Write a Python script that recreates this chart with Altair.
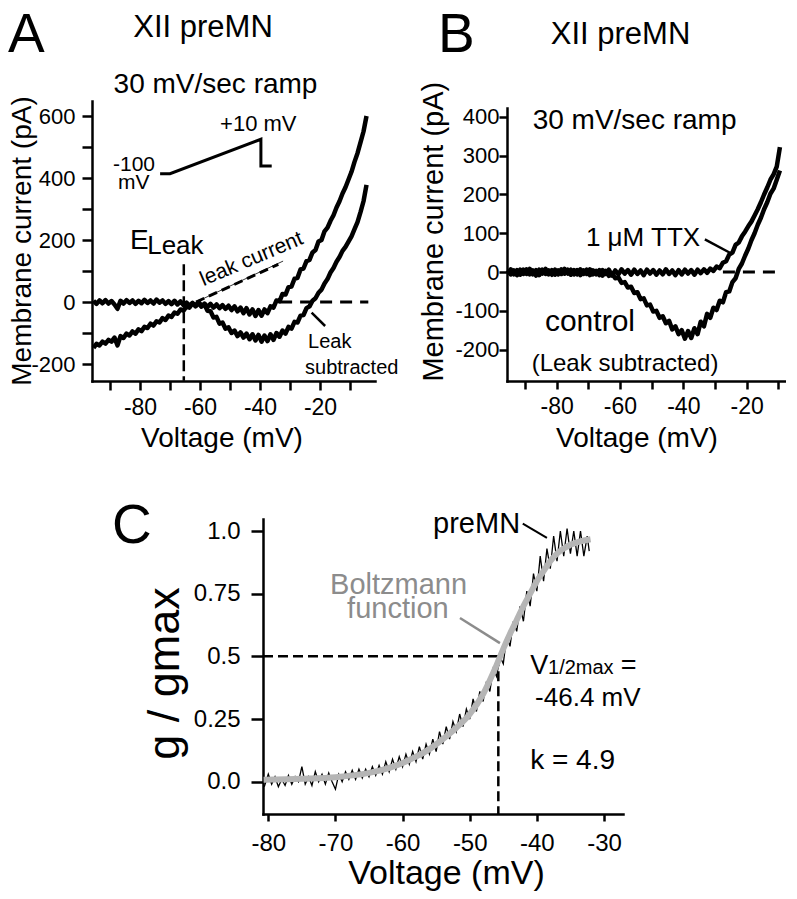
import altair as alt
import pandas as pd

FONT = "Liberation Sans"

# ---------------- Panel A data (voltage in mV, current in pA) ----------------
A_voltage = [-95.5, -94.5, -93.5, -92.5, -91.5, -90.5, -89.5, -88.5, -87.5, -86.5,
             -85.5, -84.5, -83.5, -82.5, -81.5, -80.5, -79.5, -78.5, -77.5, -76.5,
             -75.5, -74.5, -73.5, -72.5, -71.5, -70.5, -69.5, -68.5, -67.5, -66.5,
             -65.5, -64.5, -63.5, -62.5, -61.5, -60.5, -59.5, -58.5, -57.5, -56.5,
             -55.5, -54.5, -53.5, -52.5, -51.5, -50.5, -49.5, -48.5, -47.5, -46.5,
             -45.5, -44.5, -43.5, -42.5, -41.5, -40.5, -39.5, -38.5, -37.5, -36.5,
             -35.5, -34.5, -33.5, -32.5, -31.5, -30.5, -29.5, -28.5, -27.5, -26.5,
             -25.5, -24.5, -23.5, -22.5, -21.5, -20.5, -19.5, -18.5, -17.5, -16.5,
             -15.5, -14.5, -13.5, -12.5, -11.5, -10.5, -9.5, -8.5, -7.5, -6.5,
             -5.5, -4.5]
A_trace_flat = [4, -6, 5, -4, 6, -5, 3, -8, -22, 4,
                -5, 6, -3, 5, -6, 4, -4, 7, -3, 5,
                -5, 8, -2, 5, -6, 3, -7, 4, -8, 2,
                -10, -2, -12, -3, -14, -4, -15, -5, -16, -6,
                -18, -8, -20, -10, -22, -12, -26, -14, -30, -18,
                -36, -20, -40, -24, -45, -26, -44, -24, -36, -14,
                -18, 5, 2, 26, 24, 48, 50, 75, 78, 105,
                108, 132, 136, 160, 168, 195, 200, 228, 240, 262,
                280, 305, 325, 350, 370, 395, 420, 452, 480, 515,
                550, 600]
A_trace_leak = [-148, -135, -140, -128, -134, -122, -128, -115, -140, -110,
                -116, -102, -108, -95, -102, -88, -94, -80, -84, -70,
                -76, -62, -66, -52, -58, -44, -48, -34, -38, -24,
                -28, -14, -18, -4, -12, 0, -12, -8, -28, -30,
                -50, -48, -70, -66, -86, -82, -100, -92, -110, -98,
                -115, -102, -120, -104, -124, -106, -128, -108, -126, -104,
                -122, -100, -112, -92, -102, -80, -86, -64, -66, -44,
                -42, -20, -14, 4, 12, 30, 40, 60, 74, 95,
                110, 130, 145, 165, 178, 195, 212, 235, 258, 290,
                325, 378]
A_leak_line_v = [-61.3, -32.3]
A_leak_line_i = [0, 132]
A_leak_dash_v = [-61.3, -33.9]
A_leak_dash_i = [0, 121.6]
A_eleak_v = [-65.4, -65.4]
A_eleak_i = [121.6, -254]
A_zero_v = [-33.3, -3.9]
A_zero_i = [0, 0]
A_ramp_v = [-73.3, -70.0, -39.7, -39.7, -36.1]
A_ramp_i = [414, 414, 525, 439, 439]
A_pointer_v = [-22.8, -18.3]
A_pointer_i = [-34.5, -77.4]
A_xticks = [-90, -80, -70, -60, -50, -40, -30, -20, -10]
A_yticks = [-200, -100, 0, 100, 200, 300, 400, 500, 600]

# ---------------- Panel B data ----------------
B_voltage = A_voltage[:87]
B_ttx = [5, -6, 4, -8, 6, -5, 7, -6, 4, -9,
         6, -4, 8, -6, 5, -7, 4, -5, 8, -4,
         6, -6, 5, -8, 4, -5, 7, -6, 3, -8,
         5, -5, 6, -9, 4, -6, 7, -4, 5, -7,
         6, -5, 4, -8, 6, -4, 5, -7, 4, -6,
         7, -5, 4, -8, 5, -6, 6, -4, 5, -7,
         6, -3, 7, -2, 9, 3, 14, 10, 24, 28,
         45, 50, 70, 76, 92, 104, 118, 130, 146, 162,
         180, 200, 218, 238, 252, 272, 322]
B_control = [-4, 7, -6, 5, -7, 6, -5, 8, -6, 5,
             -8, 6, -5, 4, -7, 6, -6, 7, -4, 6,
             -7, 5, -6, 7, -5, 6, -8, 4, -6, 5,
             -9, 3, -10, -4, -16, -14, -28, -26, -40, -38,
             -54, -52, -70, -68, -86, -84, -102, -100, -118, -114,
             -132, -126, -148, -140, -160, -150, -172, -152, -170, -145,
             -160, -128, -140, -108, -118, -92, -98, -74, -78, -52,
             -50, -26, -16, 8, 22, 42, 60, 82, 100, 122,
             140, 162, 180, 202, 215, 238, 262]
B_zero_v = [-27.5, -9.5]
B_zero_i = [0, 0]
B_pointer_v = [-33.2, -25.3]
B_pointer_i = [84, 49.7]
B_xticks = [-90, -80, -70, -60, -50, -40, -30, -20, -10]
B_yticks = [-200, -100, 0, 100, 200, 300, 400]

# ---------------- Panel C data ----------------
C_voltage = [-80.6, -80.0, -79.5, -79.0, -78.5, -78.0, -77.5, -77.0, -76.5, -76.0,
             -75.5, -75.0, -74.5, -74.0, -73.5, -73.0, -72.5, -72.0, -71.5, -71.0,
             -70.5, -70.0, -69.5, -69.0, -68.5, -68.0, -67.5, -67.0, -66.5, -66.0,
             -65.5, -65.0, -64.5, -64.0, -63.5, -63.0, -62.5, -62.0, -61.5, -61.0,
             -60.5, -60.0, -59.5, -59.0, -58.5, -58.0, -57.5, -57.0, -56.5, -56.0,
             -55.5, -55.0, -54.5, -54.0, -53.5, -53.0, -52.5, -52.0, -51.5, -51.0,
             -50.5, -50.0, -49.5, -49.0, -48.5, -48.0, -47.5, -47.0, -46.5, -46.0,
             -45.5, -45.0, -44.5, -44.0, -43.5, -43.0, -42.5, -42.0, -41.5, -41.0,
             -40.5, -40.0, -39.5, -39.0, -38.5, -38.0, -37.5, -37.0, -36.5, -36.0,
             -35.5, -35.0, -34.5, -34.0, -33.5, -33.0, -32.5, -32.2]
C_g = [-0.02, 0.03, -0.01, 0.02, -0.02, 0.01, -0.015, 0.025, -0.01, 0.02,
       0.0, 0.06, -0.01, 0.02, -0.015, 0.04, 0.0, 0.03, -0.01, 0.035,
       0.0, -0.03, 0.03, 0.0, 0.04, 0.01, 0.045, 0.01, 0.05, 0.015,
       0.05, 0.02, 0.06, 0.025, 0.065, 0.03, 0.08, 0.04, 0.09, 0.05,
       0.1, 0.06, 0.11, 0.07, 0.12, 0.08, 0.14, 0.09, 0.15, 0.11,
       0.17, 0.12, 0.2, 0.15, 0.22, 0.17, 0.24, 0.2, 0.27, 0.22,
       0.29, 0.25, 0.33, 0.28, 0.36, 0.32, 0.4, 0.36, 0.45, 0.42,
       0.5, 0.47, 0.58, 0.54, 0.64, 0.6, 0.7, 0.64, 0.76, 0.7,
       0.83, 0.76, 0.9, 0.8, 0.93, 0.85, 0.98, 0.88, 1.0, 0.9,
       1.01, 0.91, 1.0, 0.9, 1.0, 0.9, 0.98, 0.92]
C_fit_v = [-80.7, -75, -70, -65, -62, -60, -58, -56, -54, -52, -50, -48, -47, -46,
           -45, -44, -43, -42, -41, -40, -39, -38, -37, -36, -35, -34, -33, -32]
C_fit_g = [0.008, 0.012, 0.018, 0.035, 0.055, 0.075, 0.1, 0.13, 0.17, 0.215, 0.27, 0.35, 0.405, 0.465,
           0.53, 0.59, 0.645, 0.70, 0.75, 0.80, 0.84, 0.88, 0.91, 0.93, 0.945, 0.955, 0.962, 0.967]
C_half_h_v = [-80.79, -45.74]
C_half_h_g = [0.5, 0.5]
C_half_v_v = [-45.74, -45.74]
C_half_v_g = [0.5, -0.1288]
C_pre_ptr_v = [-42.1, -38.5]
C_pre_ptr_g = [1.029, 0.973]
C_fit_ptr_v = [-51.45, -45.5]
C_fit_ptr_g = [0.653, 0.553]
C_xticks = [-80, -70, -60, -50, -40, -30]
C_yticks = [0, 0.25, 0.5, 0.75, 1.0]

GRAY_TEXT = "#8c8c8c"
GRAY_FIT = "#b5b5b5"


def make_enc(xsc, ysc, xax, yax):
    def enc():
        return dict(x=alt.X("x:Q", scale=xsc, axis=xax),
                    y=alt.Y("y:Q", scale=ysc, axis=yax))
    return enc


def line(enc, xs, ys, **mk):
    df = pd.DataFrame({"x": xs, "y": ys, "i": list(range(len(xs)))})
    mk.setdefault("color", "black")
    return alt.Chart(df).mark_line(**mk).encode(order="i:Q", **enc())


def dtext(enc, txt, x, y, **mk):
    df = pd.DataFrame({"x": [x], "y": [y], "t": [txt]})
    mk.setdefault("color", "black")
    mk.setdefault("baseline", "alphabetic")
    return alt.Chart(df).mark_text(font=FONT, **mk).encode(text="t:N", **enc())


def ptext(txt, px, py, **mk):
    df = pd.DataFrame({"t": [txt]})
    mk.setdefault("color", "black")
    mk.setdefault("baseline", "alphabetic")
    return alt.Chart(df).mark_text(font=FONT, **mk).encode(
        text="t:N", x=alt.value(px), y=alt.value(py))


lab20 = "datum.value % 20 == 0 ? '' + datum.value : ''"

# Top row: panels A and B share one cell, each with its own scales
B_LEFT = 415          # B plot starts 415 px right of A plot
B_WIDTH = 279
TOP_H = 280

# ---------------- Panel A ----------------
xsA = alt.Scale(domain=[-96, -1.67], range=[0, 283], nice=False, zero=False)
ysA = alt.Scale(domain=[-254.8, 648.4], nice=False, zero=False)
axA_x = alt.Axis(title=None, orient="bottom", values=A_xticks, labelExpr=lab20,
                 tickSize=9, labelPadding=6, labelFontSize=23)
axA_y = alt.Axis(title=None, orient="left", values=A_yticks,
                 labelExpr="datum.value % 200 == 0 ? '' + datum.value : ''",
                 tickSize=10, labelPadding=7, labelFontSize=22)
encA = make_enc(xsA, ysA, axA_x, axA_y)

layerA = alt.layer(
    line(encA, A_voltage, A_trace_leak, strokeWidth=4.5, strokeJoin="round"),
    line(encA, A_voltage, A_trace_flat, strokeWidth=4.5, strokeJoin="round"),
    line(encA, A_leak_line_v, A_leak_line_i, strokeWidth=0.8),
    line(encA, A_leak_dash_v, A_leak_dash_i, strokeWidth=3, strokeDash=[9, 5]),
    line(encA, A_eleak_v, A_eleak_i, strokeWidth=2.5, strokeDash=[11, 5]),
    line(encA, A_zero_v, A_zero_i, strokeWidth=3, strokeDash=[12, 8]),
    line(encA, A_ramp_v, A_ramp_i, strokeWidth=3, strokeJoin="miter"),
    line(encA, A_pointer_v, A_pointer_i, strokeWidth=2.5),
    dtext(encA, "E", -83.3, 171, fontSize=28, align="left"),
    dtext(encA, "Leak", -77.6, 155, fontSize=26, align="left"),
    dtext(encA, "leak current", -42.8, 138, fontSize=21, angle=337,
          align="center", baseline="middle"),
    dtext(encA, "Leak", -24, -147, fontSize=20, align="left"),
    dtext(encA, "subtracted", -25, -233, fontSize=20, align="left"),
    dtext(encA, "-100", -89, 422, fontSize=21, align="left"),
    dtext(encA, "mV", -87.3, 364, fontSize=21, align="left"),
    dtext(encA, "+10 mV", -53.3, 551, fontSize=22, align="left"),
    ptext("A", -84, -92, fontSize=55, align="left", baseline="top"),
    ptext("XII preMN", 111, -64, fontSize=31, align="center"),
    ptext("30 mV/sec ramp", 123.5, -8.3, fontSize=28, align="center"),
    ptext("Membrane current (pA)", -61, 140, fontSize=28, angle=270, align="center"),
    ptext("Voltage (mV)", 130, 346, fontSize=28, align="center"),
)

# ---------------- Panel B ----------------
xsB = alt.Scale(domain=[-95.68, -7.58], range=[B_LEFT, B_LEFT + B_WIDTH],
                nice=False, zero=False)
ysB = alt.Scale(domain=[-281, 423], range=[280, 7], nice=False, zero=False)
axB_x = alt.Axis(title=None, orient="bottom", values=B_xticks, labelExpr=lab20,
                 tickSize=8, labelPadding=6, labelFontSize=23)
axB_y = alt.Axis(title=None, orient="left", offset=-B_LEFT, values=B_yticks,
                 labelExpr="'' + datum.value", tickSize=8, labelPadding=0,
                 labelFontSize=22)
encB = make_enc(xsB, ysB, axB_x, axB_y)

layerB = alt.layer(
    line(encB, B_voltage, B_control, strokeWidth=4.5, strokeJoin="round"),
    line(encB, B_voltage, B_ttx, strokeWidth=4.5, strokeJoin="round"),
    line(encB, B_zero_v, B_zero_i, strokeWidth=3, strokeDash=[12, 8]),
    line(encB, B_pointer_v, B_pointer_i, strokeWidth=2.5),
    dtext(encB, "30 mV/sec ramp", -55.4, 368, fontSize=28, align="center"),
    dtext(encB, "1 \u03bcM TTX", -34.7, 67, fontSize=26, align="right"),
    dtext(encB, "control", -83.7, -152, fontSize=30, align="left"),
    dtext(encB, "(Leak subtracted)", -58.4, -255, fontSize=24, align="center"),
    ptext("B", B_LEFT - 69, -92, fontSize=55, align="left", baseline="top"),
    ptext("XII preMN", B_LEFT + 113.5, -57, fontSize=31, align="center"),
    ptext("Membrane current (pA)", B_LEFT - 64, 130.7, fontSize=29, angle=270,
          align="center"),
    ptext("Voltage (mV)", B_LEFT + 130, 346, fontSize=28, align="center"),
)

top_row = alt.layer(layerA, layerB).resolve_scale(
    x="independent", y="independent"
).properties(width=B_LEFT + B_WIDTH, height=TOP_H)

# ---------------- Panel C ----------------
C_LEFT = 171          # C plot starts 171 px right of A plot
C_WIDTH = 360
xsC = alt.Scale(domain=[-80.79, -27.17], range=[C_LEFT, C_LEFT + C_WIDTH],
                nice=False, zero=False)
ysC = alt.Scale(domain=[-0.1288, 1.0479], nice=False, zero=False)
axC_x = alt.Axis(title=None, orient="bottom", values=C_xticks,
                 labelExpr="'' + datum.value", tickSize=7, labelPadding=10,
                 labelFontSize=24)
axC_y = alt.Axis(title=None, orient="left", offset=-C_LEFT, values=C_yticks,
                 labelExpr="datum.value == 0 ? '0.0' : datum.value == 1 ? '1.0' : "
                           "datum.value == 0.5 ? '0.5' : datum.value == 0.25 ? '0.25' : '0.75'",
                 tickSize=12, labelPadding=11, labelFontSize=24)
encC = make_enc(xsC, ysC, axC_x, axC_y)

panelC = alt.layer(
    line(encC, C_half_h_v, C_half_h_g, strokeWidth=2.5, strokeDash=[10, 5]),
    line(encC, C_half_v_v, C_half_v_g, strokeWidth=2.5, strokeDash=[10, 5]),
    line(encC, C_voltage, C_g, strokeWidth=1.3),
    line(encC, C_fit_v, C_fit_g, strokeWidth=6, color=GRAY_FIT, interpolate="monotone"),
    line(encC, C_pre_ptr_v, C_pre_ptr_g, strokeWidth=2),
    line(encC, C_fit_ptr_v, C_fit_ptr_g, strokeWidth=2.5, color=GRAY_TEXT),
    dtext(encC, "preMN", -42.5, 0.993, fontSize=29, align="right"),
    dtext(encC, "Boltzmann", -60.6, 0.7475, fontSize=29, align="center", color=GRAY_TEXT),
    dtext(encC, "function", -60.7, 0.654, fontSize=29, align="center", color=GRAY_TEXT),
    dtext(encC, "V", -41.0, 0.4284, fontSize=27, align="left"),
    dtext(encC, "1/2max", -38.34, 0.4284, fontSize=20, align="left"),
    dtext(encC, "=", -27.5, 0.4284, fontSize=27, align="left"),
    dtext(encC, "-46.4 mV", -40.26, 0.302, fontSize=26, align="left"),
    dtext(encC, "k = 4.9", -41.0, 0.0507, fontSize=28, align="left"),
    ptext("C", C_LEFT - 151, 24, fontSize=55, align="left"),
    ptext("g / gmax", C_LEFT - 84, 154.5, fontSize=45, angle=270, align="center"),
    ptext("Voltage (mV)", C_LEFT + 183.5, 365, fontSize=34, align="center"),
).properties(width=C_LEFT + C_WIDTH, height=295)

chart = alt.vconcat(
    top_row, panelC, spacing=138, bounds="flush",
).properties(padding=0).configure_view(stroke=None).configure_axis(
    domainColor="black", tickColor="black", domainWidth=2.5, tickWidth=2.5,
    labelColor="black", labelFont=FONT, grid=False, labelFlush=False,
    labelOverlap=False, domainCap="square",
)

chart.save("out.html", embed_options={"renderer": "svg", "actions": False})
